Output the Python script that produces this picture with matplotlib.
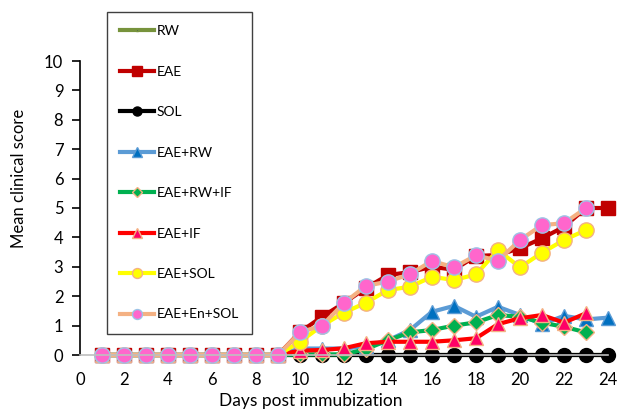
import matplotlib.pyplot as plt
import numpy as np

plt.rcParams['font.family'] = ['Lato', 'DejaVu Sans']

days = np.arange(1, 25)

# mean clinical scores per group
rw = [0] * 24
eae = [0, 0, 0, 0, 0, 0, 0, 0, 0, 0.78, 1.3, 1.77, 2.28, 2.72, 2.82, 3.0, 2.9,
       3.37, 3.4, 3.63, 3.97, 4.36, 5.0, 5.0]
sol = [0] * 24
eae_rw = [0, 0, 0, 0, 0, 0, 0, 0, 0, 0.22, 0.22, 0.22, 0.3, 0.5, 0.85, 1.47, 1.67,
          1.3, 1.64, 1.36, 1.05, 1.33, 1.21, 1.27]
eae_rw_if = [0, 0, 0, 0, 0, 0, 0, 0, 0, 0.02, 0.02, 0.02, 0.2, 0.5, 0.77, 0.85, 1.0,
             1.11, 1.36, 1.3, 1.1, 0.96, 0.77]
eae_if = [0, 0, 0, 0, 0, 0, 0, 0, 0, 0.15, 0.17, 0.23, 0.4, 0.45, 0.45, 0.45, 0.5,
          0.57, 1.05, 1.25, 1.36, 1.1, 1.42]
eae_sol = [0, 0, 0, 0, 0, 0, 0, 0, 0, 0.45, 1.0, 1.44, 1.78, 2.21, 2.32, 2.66, 2.55,
           2.74, 3.57, 2.98, 3.48, 3.91, 4.25]
eae_en_sol = [0, 0, 0, 0, 0, 0, 0, 0, 0, 0.77, 1.0, 1.77, 2.35, 2.5, 2.75, 3.2, 2.98,
              3.39, 3.21, 3.91, 4.42, 4.48, 5.0]

fig = plt.figure(figsize=(6.19, 4.12), dpi=100)
ax = fig.add_axes([80/619, 1-355/412, 528/619, 294/412])

ax.plot(days, rw, color="#77933C", lw=3, marker="s", ms=3, mfc="#1F3864", mec="#77933C", label="RW")
ax.plot(days, eae, color="#C00000", lw=3, marker="s", ms=10, mfc="#C00000", mec="#C00000", label="EAE")
ax.plot(days, sol, color="black", lw=3, marker="o", ms=10, mfc="black", mec="black", label="SOL")
ax.plot(days, eae_rw, color="#5B9BD5", lw=3, marker="^", ms=10, mfc="#0070C0", mec="#5B9BD5", label="EAE+RW")
ax.plot(days[:23], eae_rw_if, color="#00B050", lw=3, marker="D", ms=8, mfc="#00B050", mec="#F4B183", label="EAE+RW+IF")
ax.plot(days[:23], eae_if, color="#FF0000", lw=3, marker="^", ms=10, mfc="#FF0066", mec="#F4B183", label="EAE+IF")
ax.plot(days[:23], eae_sol, color="#FFFF00", lw=3, marker="o", ms=11, mfc="#FFFF00", mec="#F4B183", label="EAE+SOL")
ax.plot(days[:23], eae_en_sol, color="#F4B183", lw=3, marker="o", ms=11, mfc="#FF66CC", mec="#9DC3E6", label="EAE+En+SOL")

ax.set_xlim(0, 24)
ax.set_ylim(0, 10)
ax.set_xticks(np.arange(0, 25, 2))
ax.set_yticks(np.arange(0, 11, 1))
ax.tick_params(axis="x", length=0, labelsize=12, pad=12)
ax.tick_params(axis="y", length=6, width=1.2, labelsize=12, pad=6)

for s in ["top", "right"]:
    ax.spines[s].set_visible(False)
ax.spines["bottom"].set_color("#BFBFBF")
ax.spines["bottom"].set_linewidth(1.2)
ax.spines["left"].set_color("black")
ax.spines["left"].set_linewidth(1.2)
for line in ax.get_lines():
    line.set_clip_on(False)

ax.set_xlabel("Days post immubization", fontsize=12.5)
ax.set_ylabel("Mean clinical score", fontsize=12)
ax.xaxis.set_label_coords(0.4375, -0.13)
ax.yaxis.set_label_coords(-0.1, 0.6)

leg = fig.legend(loc="upper left", bbox_to_anchor=(107/619, 1-12/412), borderaxespad=0,
                 fontsize=10, handlelength=2.4, handletextpad=0.25, labelspacing=2.05,
                 markerscale=0.65, fancybox=False, edgecolor="#404040", framealpha=1,
                 borderpad=0.95)
leg.get_frame().set_linewidth(1)

fig.savefig("out.png", dpi=100)
